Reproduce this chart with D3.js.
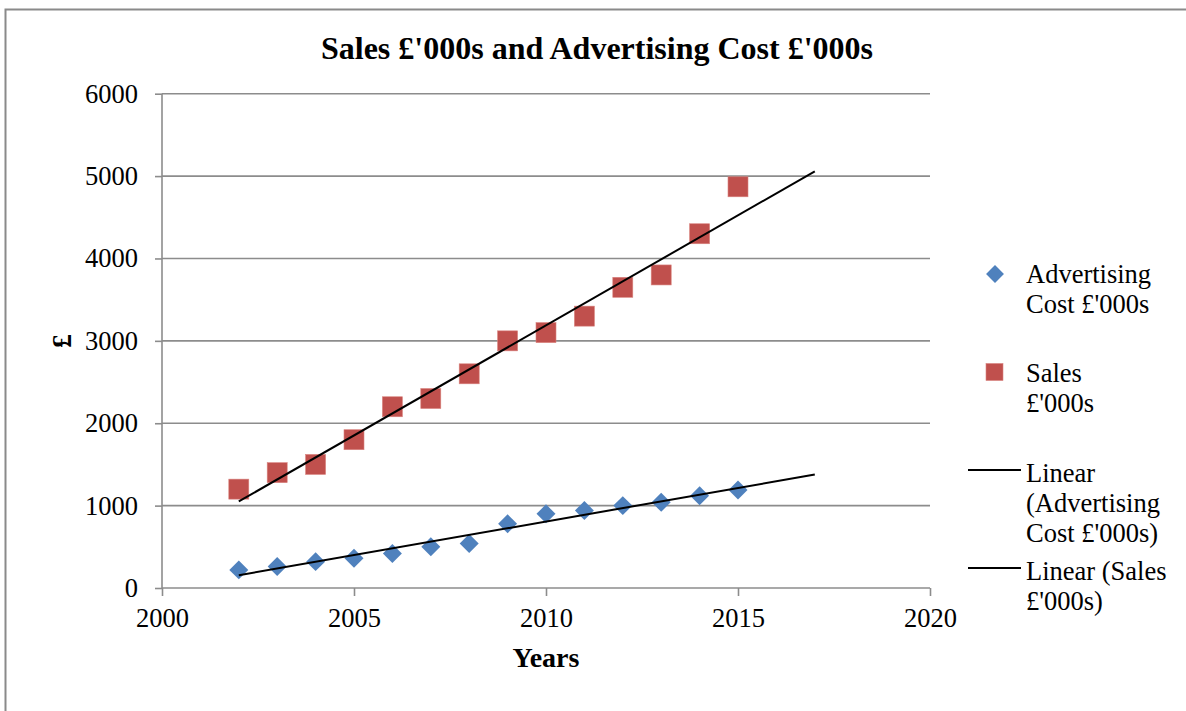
<!DOCTYPE html>
<html>
<head>
<meta charset="utf-8">
<script src="https://cdn.jsdelivr.net/npm/d3@7"></script>
<style>
  html, body { margin: 0; padding: 0; background: #fff; }
  svg { display: block; }
  text { font-family: "Times New Roman", "Liberation Serif", "DejaVu Serif", serif; fill: #000; }
</style>
</head>
<body>
<svg id="chart" width="1186" height="711"></svg>
<script>
// Yearly figures, £'000s
const years = [2002, 2003, 2004, 2005, 2006, 2007, 2008, 2009, 2010, 2011, 2012, 2013, 2014, 2015];
const advertisingCost = [220, 260, 320, 360, 420, 500, 540, 780, 900, 940, 1000, 1040, 1120, 1190];
const sales = [1200, 1400, 1500, 1800, 2200, 2300, 2600, 3000, 3100, 3300, 3650, 3800, 4300, 4870];

const xTicks = [2000, 2005, 2010, 2015, 2020];
const yTicks = [0, 1000, 2000, 3000, 4000, 5000, 6000];
const trendForward = 2; // trendlines projected two years ahead

const titleText = "Sales £'000s and Advertising Cost £'000s";
const xAxisTitle = "Years";
const yAxisTitle = "£";
const legendAdvertising = ["Advertising", "Cost £'000s"];
const legendSales = ["Sales", "£'000s"];
const legendTrendAdvertising = ["Linear", "(Advertising", "Cost £'000s)"];
const legendTrendSales = ["Linear (Sales", "£'000s)"];

const colorAdvertising = "#4F81BD";
const colorSales = "#C0504D";
const gridColor = "#8c8c8c";
const bodySize = 26.5;

const svg = d3.select("#chart");

// Chart area frame
svg.append("rect")
  .attr("x", 5.5).attr("y", 9.5)
  .attr("width", 1186).attr("height", 711)
  .attr("fill", "#fff")
  .attr("stroke", "#8a8a8a").attr("stroke-width", 2);

const plot = { left: 162, right: 930, top: 93.7, bottom: 588 };

const x = d3.scaleLinear().domain([2000, 2020]).range([plot.left, plot.right]);
const y = d3.scaleLinear().domain([0, 6000]).range([plot.bottom, plot.top]);

// Horizontal gridlines
svg.append("g")
  .selectAll("line")
  .data(yTicks.filter(d => d > 0))
  .join("line")
  .attr("x1", plot.left).attr("x2", plot.right)
  .attr("y1", d => y(d)).attr("y2", d => y(d))
  .attr("stroke", gridColor).attr("stroke-width", 1.6);

// Axes
const yAxis = d3.axisLeft(y).tickValues(yTicks).tickSize(7).tickPadding(17).tickFormat(d3.format("d"));
const xAxis = d3.axisBottom(x).tickValues(xTicks).tickSize(8).tickPadding(12).tickFormat(d3.format("d"));

const gy = svg.append("g").attr("transform", `translate(${plot.left},0)`).call(yAxis);
const gx = svg.append("g").attr("transform", `translate(0,${plot.bottom})`).call(xAxis);

[gx, gy].forEach(g => {
  g.select(".domain").attr("stroke", gridColor).attr("stroke-width", 1.6);
  g.selectAll(".tick line").attr("stroke", gridColor).attr("stroke-width", 1.6);
  g.selectAll(".tick text")
    .attr("font-family", "'Times New Roman', 'Liberation Serif', serif")
    .attr("font-size", bodySize).attr("fill", "#000");
});
gx.select(".domain").attr("d", `M${plot.left},0H${plot.right}`);
gy.select(".domain").attr("d", `M0,${plot.top}V${plot.bottom}`);

// Least-squares trendline, extended forward
function trend(xs, ys, forward) {
  const mx = d3.mean(xs), my = d3.mean(ys);
  const sxy = d3.sum(xs, (v, i) => (v - mx) * (ys[i] - my));
  const sxx = d3.sum(xs, v => (v - mx) * (v - mx));
  const slope = sxy / sxx;
  const x0 = d3.min(xs), x1 = d3.max(xs) + forward;
  return [[x0, my + slope * (x0 - mx)], [x1, my + slope * (x1 - mx)]];
}

const line = d3.line().x(d => x(d[0])).y(d => y(d[1]));

// Sales markers
svg.append("g")
  .selectAll("rect")
  .data(years.map((yr, i) => [yr, sales[i]]))
  .join("rect")
  .attr("x", d => x(d[0]) - 10).attr("y", d => y(d[1]) - 10)
  .attr("width", 20).attr("height", 20)
  .attr("fill", colorSales)
  .attr("stroke", "#d9837f").attr("stroke-width", 0.6);

// Advertising cost markers (squares turned into diamonds)
svg.append("g")
  .selectAll("path")
  .data(years.map((yr, i) => [yr, advertisingCost[i]]))
  .join("path")
  .attr("transform", d => `translate(${x(d[0])},${y(d[1])}) rotate(45)`)
  .attr("d", d3.symbol().type(d3.symbolSquare).size(180))
  .attr("fill", colorAdvertising);

// Trendlines
svg.append("path")
  .attr("d", line(trend(years, sales, trendForward)))
  .attr("fill", "none").attr("stroke", "#000").attr("stroke-width", 2);
svg.append("path")
  .attr("d", line(trend(years, advertisingCost, trendForward)))
  .attr("fill", "none").attr("stroke", "#000").attr("stroke-width", 2);

// Titles
svg.append("text")
  .attr("x", 597).attr("y", 59)
  .attr("text-anchor", "middle")
  .attr("font-size", 32).attr("font-weight", "bold")
  .text(titleText);

svg.append("text")
  .attr("x", 546).attr("y", 667)
  .attr("text-anchor", "middle")
  .attr("font-size", 28).attr("font-weight", "bold")
  .text(xAxisTitle);

svg.append("text")
  .attr("transform", "translate(71,341) rotate(-90)")
  .attr("text-anchor", "middle")
  .attr("font-size", 28).attr("font-weight", "bold")
  .text(yAxisTitle);

// Legend
const legend = svg.append("g");
const lineGap = 30;
function legendText(lines, baseline) {
  const t = legend.append("text").attr("x", 1026).attr("y", baseline).attr("font-size", bodySize);
  lines.forEach((s, i) => t.append("tspan").attr("x", 1026).attr("y", baseline + i * lineGap).text(s));
}

legend.append("path")
  .attr("transform", "translate(995,274) rotate(45)")
  .attr("d", d3.symbol().type(d3.symbolSquare).size(160))
  .attr("fill", colorAdvertising);
legendText(legendAdvertising, 283);

legend.append("rect")
  .attr("x", 986).attr("y", 363.5).attr("width", 17).attr("height", 17)
  .attr("fill", colorSales).attr("stroke", "#d9837f").attr("stroke-width", 0.6);
legendText(legendSales, 382);

legend.append("line")
  .attr("x1", 968).attr("x2", 1021).attr("y1", 470).attr("y2", 470)
  .attr("stroke", "#000").attr("stroke-width", 2);
legendText(legendTrendAdvertising, 482);

legend.append("line")
  .attr("x1", 968).attr("x2", 1021).attr("y1", 568).attr("y2", 568)
  .attr("stroke", "#000").attr("stroke-width", 2);
legendText(legendTrendSales, 580);
</script>
</body>
</html>
